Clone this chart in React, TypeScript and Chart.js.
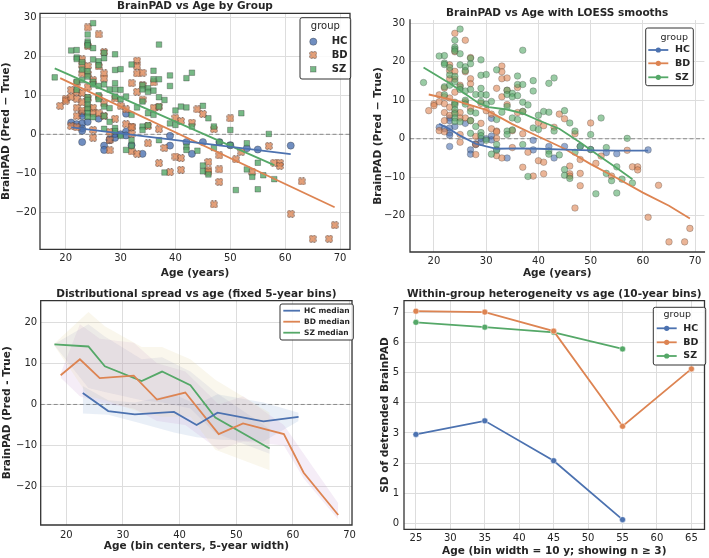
import React, { useEffect, useRef } from "react";
import { Chart, registerables } from "chart.js";
Chart.register(...registerables);

const FONT = "'DejaVu Sans', 'Liberation Sans', sans-serif";
const TEXT = "#262626";
const GRID = "#dddddd";
const SPINE = "#333333";
const C_HC = "#4C72B0";
const C_BD = "#DD8452";
const C_SZ = "#55A868";

// ---------- Scatter data: [age, BrainPAD] ----------
const hcPoints = [
  [21, 3.0], [22, 2.6], [23, 5.4], [23, 4.7], [23, 2.8], [23, 1.5], [23, 0.9], [23, -2.0], [24, 3.2], [26, 4.0],
  [27, -2.9], [27, -4.0], [28, -1.5], [28, -1.3], [29, -0.9], [29, 0.1], [30, 0.0], [31, 5.3], [31, 0.7], [31, -0.3],
  [32, -2.8], [34, -5.0], [39, -0.4], [39, -2.9], [42, -2.0], [43, -5.0], [45, -2.0], [48, -2.0], [50, -2.8], [53, -3.6],
  [55, -3.9], [61, -2.9],
];
const bdPoints = [
  [19, 7.3], [20, 9.1], [20, 8.6], [21, 11.4], [21, 9.6], [21, 2.1], [22, 13.2], [22, 10.9], [22, 9.1], [22, 6.8],
  [22, 4.7], [22, 1.8], [23, 19.2], [23, 17.7], [23, 15.6], [23, 10.6], [23, 8.2], [23, 6.1], [24, 27.4], [24, 22.6],
  [24, 17.5], [24, 15.5], [24, 12.1], [24, 9.2], [24, 6.9], [25, 13.9], [25, 6.8], [25, 5.4], [25, 1.1], [25, -0.9],
  [26, 25.6], [26, 17.4], [26, 9.6], [26, 5.4], [27, 21.1], [27, 15.6], [27, 14.3], [27, 7.9], [27, 4.7], [28, -4.1],
  [28, -1.5], [28, 0.6], [29, 9.2], [29, 4.0], [30, 7.3], [31, 6.4], [31, 2.6], [32, 13.1], [32, 2.0], [32, 1.8],
  [32, 0.1], [32, -4.4], [33, 18.9], [33, 17.4], [33, 15.6], [33, 10.9], [33, -5.0], [34, 15.8], [34, 12.6], [34, 8.9],
  [35, 2.1], [35, -2.3], [36, 13.3], [36, 6.8], [37, 7.1], [37, 1.3], [37, -7.4], [38, -3.5], [39, -9.7], [40, 4.2],
  [40, -5.7], [41, 3.4], [41, -6.1], [41, -9.1], [43, 3.0], [44, 6.4], [45, 5.2], [46, -7.1], [46, -9.1], [46, -9.7],
  [47, 1.3], [47, -18.0], [48, -5.4], [48, -9.0], [48, -12.2], [50, 4.1], [51, -6.4], [52, -4.5], [54, -9.7], [57, -3.0],
  [58, -7.3], [59, -7.3], [59, -8.1], [61, -20.4], [63, -12.1], [65, -26.8], [68, -26.8], [69, -23.3],
];
const szPoints = [
  [18, 14.6], [21, 21.5], [22, 21.6], [22, 19.7], [22, 19.3], [22, 13.5], [22, 11.4], [23, 18.5], [23, 16.6], [23, 13.9],
  [24, 25.6], [24, 23.8], [24, 23.3], [24, 22.8], [24, 16.2], [24, 14.8], [24, 9.5], [24, 8.8], [24, 7.6], [24, 6.5],
  [24, 5.4], [24, 4.5], [25, 28.5], [25, 22.1], [25, 19.2], [25, 13.5], [25, 12.8], [25, 4.4], [26, 18.7], [26, 17.7],
  [26, 12.4], [26, 10.0], [26, 9.0], [27, 20.9], [27, 19.5], [27, 12.8], [27, 7.1], [27, 4.7], [27, 1.4], [28, 11.5],
  [28, 6.7], [28, 3.2], [29, 20.5], [29, 16.5], [29, 13.1], [29, 11.5], [29, 9.7], [29, 1.6], [29, 0.8], [30, 16.7],
  [30, 11.4], [30, 9.0], [30, -0.4], [31, 9.7], [31, -4.0], [32, 17.9], [32, 5.0], [32, -1.5], [32, -3.0], [33, 6.9],
  [34, 12.6], [34, 11.5], [34, 8.4], [34, 2.0], [34, 1.1], [35, 11.8], [35, 10.9], [35, 5.4], [35, 2.3], [36, 16.3],
  [36, 14.1], [36, 11.2], [36, 5.0], [37, 23.0], [37, 14.1], [37, 9.5], [37, 7.1], [37, -1.5], [38, 8.8], [38, -9.8],
  [39, 15.1], [39, 12.4], [39, 2.8], [40, 6.1], [40, 2.4], [41, 7.1], [42, 14.4], [42, 6.9], [42, -3.2], [42, -4.0],
  [43, 15.8], [43, 2.0], [44, -4.2], [45, 7.3], [45, -8.0], [45, -9.5], [46, 4.1], [46, -10.3], [47, 2.0], [47, -3.5],
  [48, -2.0], [50, 1.1], [50, -2.8], [51, -14.3], [52, 5.4], [53, -2.3], [53, -9.0], [54, -10.9], [55, -7.3], [55, -14.1],
  [56, -10.5], [57, 0.1], [58, -11.5],
];

// ---------- Panel 1: linear fits (endpoints) ----------
const fitHCx = [21, 61];
const fitHCy = [1.8, -5.1];
const fitBDx = [19, 69];
const fitBDy = [14.4, -18.7];
const fitSZx = [18, 58];
const fitSZy = [16.9, -7.9];

// ---------- Panel 2: LOESS smooths ----------
const loessHCx = [21, 23, 25, 28, 30, 32, 36, 40, 45, 50, 55, 61];
const loessHCy = [3.9, 2.5, 0.8, -1.3, -2.0, -2.6, -2.5, -2.6, -2.8, -3.0, -3.1, -3.1];
const loessBDx = [19, 24, 30, 35, 40, 45, 50, 55, 60, 65, 69];
const loessBDy = [11.5, 10.0, 7.5, 3.8, 0.6, -2.6, -6.6, -10.2, -14.0, -17.4, -20.7];
const loessSZx = [18, 23, 26, 28.5, 30.5, 34, 37, 40, 44, 48, 52, 55, 58];
const loessSZy = [18.5, 14.4, 11.6, 9.3, 8.2, 7.6, 6.6, 4.8, 2.6, -1.0, -4.8, -7.6, -10.5];

// ---------- Panel 3: binned medians and spread ----------
const binHCx = [22.9, 27.4, 32.1, 39.0, 43.0, 46.7, 54.8, 61.0];
const medHC = [2.8, -1.6, -2.4, -1.8, -5.0, -2.0, -4.1, -3.0];
const loHC = [-2.2, -2.5, -4.2, -6.8, -8.0, -8.5, -9.0, -4.0];
const hiHC = [4.5, 1.0, 0.5, 2.5, 0.0, 2.5, 0.5, -2.0];
const binBDx = [19.0, 22.4, 25.9, 31.9, 36.0, 41.0, 46.9, 51.2, 58.4, 61.9, 68.0];
const medBD = [7.1, 11.0, 6.4, 7.0, 1.2, 2.9, -7.2, -4.6, -7.2, -16.6, -26.9];
const loBD = [6.5, 2.0, 0.5, -1.0, -4.0, -5.0, -11.0, -9.0, -10.0, -18.0, -28.0];
const hiBD = [7.5, 19.5, 16.0, 15.0, 10.0, 8.0, 0.0, 2.0, -5.0, -12.0, -24.0];
const binSZx = [17.9, 23.9, 26.8, 33.3, 36.9, 41.9, 46.3, 55.9];
const medSZ = [14.6, 14.1, 9.3, 5.7, 8.0, 4.7, -3.2, -10.7];
const loSZ = [14.3, 2.0, 1.0, -2.0, -3.0, -3.0, -11.0, -16.0];
const hiSZ = [14.8, 22.5, 19.0, 14.0, 14.0, 11.0, 6.0, -2.0];
const loSZin = [14.4, 4.0, 3.0, 1.0, 0.5, -1.0, -7.0, -12.0];
const hiSZin = [14.7, 19.5, 16.5, 11.0, 11.5, 8.0, 3.0, -6.0];

// ---------- Panel 4: SD of detrended BrainPAD ----------
const sdHCx = [25, 35, 45, 55];
const sdHC = [2.95, 3.4, 2.08, 0.13];
const sdBDx = [25, 35, 45, 55, 65];
const sdBD = [7.03, 7.0, 6.37, 3.22, 5.12];
const sdSZx = [25, 35, 45, 55];
const sdSZ = [6.66, 6.5, 6.33, 5.78];

// ---------- Tick labels ----------
const padTicks = [-20, -10, 0, 10, 20, 30];
const padTicks3 = [-20, -10, 0, 10, 20];
const ageTicks = [20, 30, 40, 50, 60, 70];
const ageTicks4 = [25, 30, 35, 40, 45, 50, 55, 60, 65];
const sdTicks = [0, 1, 2, 3, 4, 5, 6, 7];

// ---------- helpers ----------
function rgba(hex: string, a: number) {
  const n = parseInt(hex.slice(1), 16);
  return `rgba(${(n >> 16) & 255},${(n >> 8) & 255},${n & 255},${a})`;
}
const pairs = (p: number[][]) => p.map(([x, y]) => ({ x, y }));
const zip = (xs: number[], ys: number[]) => xs.map((x, i) => ({ x, y: ys[i] }));
const fmt = (v: number) => String(v).replace("-", "\u2212");

function makeXMarker(size: number, fill: string, stroke: string) {
  const c = document.createElement("canvas");
  c.width = size;
  c.height = size;
  const g = c.getContext("2d")!;
  const h = size / 2;
  const a = h * 0.98;
  const w = h * 0.42;
  g.translate(h, h);
  g.rotate(Math.PI / 4);
  const pts = [[-w, -a], [w, -a], [w, -w], [a, -w], [a, w], [w, w], [w, a], [-w, a], [-w, w], [-a, w], [-a, -w], [-w, -w]];
  g.beginPath();
  pts.forEach(([x, y], i) => (i ? g.lineTo(x, y) : g.moveTo(x, y)));
  g.closePath();
  g.fillStyle = fill;
  g.fill();
  g.strokeStyle = stroke;
  g.lineWidth = 0.7;
  g.stroke();
  return c;
}

function scale(axis: "x" | "y", min: number, max: number, ticks: number[], size: number, pad: number, title: string, tpb = 0) {
  return {
    type: "linear",
    min,
    max,
    afterBuildTicks: (ax: any) => {
      ax.ticks = ticks.map((v) => ({ value: v }));
    },
    afterFit: (ax: any) => {
      if (axis === "x") ax.height = size;
      else ax.width = size;
    },
    grid: { color: GRID, lineWidth: 1, drawTicks: false },
    border: { display: false },
    ticks: {
      padding: pad,
      color: TEXT,
      autoSkip: false,
      maxRotation: 0,
      font: { family: FONT, size: 10 },
      callback: (v: number) => fmt(v),
    },
    title: {
      display: true,
      text: title,
      color: TEXT,
      font: { family: FONT, size: 10.5, weight: "bold" },
      padding: { top: 0, bottom: tpb },
    },
  };
}

type LegendItem = { label: string; y: number; color: string; kind: string; xm?: HTMLCanvasElement };
type LegendSpec = {
  box: [number, number, number, number];
  title?: { text: string; x: number; y: number };
  size: number;
  markerX: number;
  lineX?: [number, number];
  textX: number;
  items: LegendItem[];
};

function drawLegend(ctx: CanvasRenderingContext2D, L: LegendSpec) {
  const [x0, y0, x1, y1] = L.box;
  ctx.save();
  ctx.beginPath();
  (ctx as any).roundRect(x0, y0, x1 - x0, y1 - y0, 2);
  ctx.fillStyle = "rgba(255,255,255,0.85)";
  ctx.fill();
  ctx.strokeStyle = SPINE;
  ctx.lineWidth = 1;
  ctx.stroke();
  ctx.textBaseline = "middle";
  if (L.title) {
    ctx.fillStyle = TEXT;
    ctx.textAlign = "center";
    ctx.font = `${L.size}px ${FONT}`;
    ctx.fillText(L.title.text, L.title.x, L.title.y);
  }
  for (const it of L.items) {
    if (it.kind === "line" || it.kind === "lineDot") {
      ctx.strokeStyle = it.color;
      ctx.lineWidth = 1.8;
      ctx.beginPath();
      ctx.moveTo(L.lineX![0], it.y);
      ctx.lineTo(L.lineX![1], it.y);
      ctx.stroke();
      if (it.kind === "lineDot") {
        ctx.fillStyle = it.color;
        ctx.beginPath();
        ctx.arc(L.markerX, it.y, 2.6, 0, Math.PI * 2);
        ctx.fill();
      }
    } else if (it.kind === "circle") {
      ctx.fillStyle = rgba(it.color, 0.8);
      ctx.strokeStyle = "rgba(40,40,40,0.55)";
      ctx.lineWidth = 0.6;
      ctx.beginPath();
      ctx.arc(L.markerX, it.y, 3.6, 0, Math.PI * 2);
      ctx.fill();
      ctx.stroke();
    } else if (it.kind === "rect") {
      ctx.fillStyle = rgba(it.color, 0.8);
      ctx.strokeStyle = "rgba(40,40,40,0.55)";
      ctx.lineWidth = 0.6;
      ctx.fillRect(L.markerX - 2.7, it.y - 2.7, 5.4, 5.4);
      ctx.strokeRect(L.markerX - 2.7, it.y - 2.7, 5.4, 5.4);
    } else if (it.kind === "x" && it.xm) {
      ctx.drawImage(it.xm, L.markerX - it.xm.width / 2, it.y - it.xm.height / 2);
    }
    ctx.fillStyle = TEXT;
    ctx.textAlign = "left";
    ctx.font = `bold ${L.size}px ${FONT}`;
    ctx.fillText(it.label, L.textX, it.y);
  }
  ctx.restore();
}

function deco(frame: string[], zero: boolean, legend?: LegendSpec) {
  return {
    id: "deco",
    beforeDatasetsDraw(chart: any) {
      if (!zero) return;
      const { ctx, chartArea: a, scales } = chart;
      const y = scales.y.getPixelForValue(0);
      ctx.save();
      ctx.strokeStyle = "#8a8a8a";
      ctx.lineWidth = 1;
      ctx.setLineDash([4, 2.5]);
      ctx.beginPath();
      ctx.moveTo(a.left, y);
      ctx.lineTo(a.right, y);
      ctx.stroke();
      ctx.restore();
    },
    afterDraw(chart: any) {
      const { ctx, chartArea: a } = chart;
      ctx.save();
      ctx.strokeStyle = SPINE;
      ctx.lineWidth = 1.3;
      ctx.lineCap = "square";
      ctx.beginPath();
      if (frame.includes("left")) { ctx.moveTo(a.left, a.top); ctx.lineTo(a.left, a.bottom); }
      if (frame.includes("bottom")) { ctx.moveTo(a.left, a.bottom); ctx.lineTo(a.right, a.bottom); }
      if (frame.includes("top")) { ctx.moveTo(a.left, a.top); ctx.lineTo(a.right, a.top); }
      if (frame.includes("right")) { ctx.moveTo(a.right, a.top); ctx.lineTo(a.right, a.bottom); }
      ctx.stroke();
      ctx.restore();
      if (legend) drawLegend(ctx, legend);
    },
  };
}

function titleOpt(text: string, pb: number) {
  return {
    display: true,
    text,
    fullSize: false,
    color: TEXT,
    font: { family: FONT, size: 10.5, weight: "bold" },
    padding: { top: 0, bottom: pb },
  };
}

const lineDs = (data: any[], color: string, width = 1.8, order = 0) => ({
  type: "line",
  data,
  borderColor: color,
  backgroundColor: color,
  borderWidth: width,
  pointRadius: 0,
  fill: false,
  tension: 0,
  order,
});

function cfgP1() {
  const xm = makeXMarker(8, "rgba(221,132,82,0.78)", "rgba(70,60,60,0.8)");
  return {
    type: "scatter",
    data: {
      datasets: [
        lineDs(zip(fitHCx, fitHCy), C_HC),
        lineDs(zip(fitBDx, fitBDy), C_BD),
        lineDs(zip(fitSZx, fitSZy), C_SZ),
        { data: pairs(hcPoints), pointStyle: "circle", pointRadius: 3.6, backgroundColor: rgba(C_HC, 0.8), borderColor: "rgba(40,40,40,0.55)", borderWidth: 0.6, order: 3 },
        { data: pairs(bdPoints), pointStyle: xm, pointRadius: 4, order: 2 },
        { data: pairs(szPoints), pointStyle: "rect", pointRadius: 3.9, backgroundColor: rgba(C_SZ, 0.8), borderColor: "rgba(40,40,40,0.55)", borderWidth: 0.6, order: 1 },
      ],
    },
    options: {
      responsive: false,
      animation: false,
      events: [],
      layout: { padding: { left: 0, top: 0, right: 1, bottom: 0 } },
      plugins: { legend: { display: false }, tooltip: { enabled: false }, title: titleOpt("BrainPAD vs Age by Group", 0.7) },
      scales: {
        x: scale("x", 15.32, 71.8, ageTicks, 30.7, 3, "Age (years)"),
        y: scale("y", -29.49, 31.03, padTicks, 40, 3.5, "BrainPAD (Pred \u2212 True)"),
      },
    },
    plugins: [
      deco(["left", "bottom", "top", "right"], true, {
        box: [300, 17.7, 350.7, 79],
        title: { text: "group", x: 325.3, y: 26.7 },
        size: 10,
        markerX: 313.3,
        textX: 331.7,
        items: [
          { label: "HC", y: 41.7, color: C_HC, kind: "circle" },
          { label: "BD", y: 55, color: C_BD, kind: "x", xm },
          { label: "SZ", y: 69.3, color: C_SZ, kind: "rect" },
        ],
      }),
    ],
  };
}

function cfgP2() {
  const pt = (p: number[][], c: string, order: number) => ({
    data: pairs(p),
    pointStyle: "circle",
    pointRadius: 3.3,
    backgroundColor: rgba(c, 0.6),
    borderColor: "rgba(50,50,50,0.45)",
    borderWidth: 0.6,
    order,
  });
  return {
    type: "scatter",
    data: {
      datasets: [
        lineDs(zip(loessHCx, loessHCy), C_HC),
        lineDs(zip(loessBDx, loessBDy), C_BD),
        lineDs(zip(loessSZx, loessSZy), C_SZ),
        pt(hcPoints, C_HC, 3),
        pt(bdPoints, C_BD, 2),
        pt(szPoints, C_SZ, 1),
      ],
    },
    options: {
      responsive: false,
      animation: false,
      events: [],
      layout: { padding: { left: 17, top: 6.5, right: 4, bottom: 0 } },
      plugins: { legend: { display: false }, tooltip: { enabled: false }, title: titleOpt("BrainPAD vs Age with LOESS smooths", 0.9) },
      scales: {
        x: scale("x", 15.41, 71.78, ageTicks, 28, 3.7, "Age (years)"),
        y: scale("y", -29.43, 30.86, padTicks, 38, 5, "BrainPAD (Pred \u2212 True)"),
      },
    },
    plugins: [
      deco(["left", "bottom"], true, {
        box: [290.7, 28, 338.3, 85.7],
        title: { text: "group", x: 319.3, y: 37.3 },
        size: 9.5,
        markerX: 303.3,
        lineX: [293.3, 313.3],
        textX: 320,
        items: [
          { label: "HC", y: 50, color: C_HC, kind: "lineDot" },
          { label: "BD", y: 63.3, color: C_BD, kind: "lineDot" },
          { label: "SZ", y: 77.3, color: C_SZ, kind: "lineDot" },
        ],
      }),
    ],
  };
}

function cfgP3() {
  const band = (xs: number[], hi: number[], lo: number[], color: string) => [
    { type: "line", data: zip(xs, hi), borderWidth: 0, pointRadius: 0, fill: "+1", backgroundColor: color, borderColor: "rgba(0,0,0,0)", tension: 0, order: 1 },
    { type: "line", data: zip(xs, lo), borderWidth: 0, pointRadius: 0, fill: false, borderColor: "rgba(0,0,0,0)", tension: 0, order: 1 },
  ];
  return {
    type: "line",
    data: {
      datasets: [
        lineDs(zip(binHCx, medHC), C_HC, 1.8, 0),
        lineDs(zip(binBDx, medBD), C_BD, 1.8, 0),
        lineDs(zip(binSZx, medSZ), C_SZ, 1.8, 0),
        ...band(binSZx, hiSZ, loSZ, "rgba(230,215,165,0.2)"),
        ...band(binSZx, hiSZin, loSZin, "rgba(130,135,195,0.14)"),
        ...band(binBDx, hiBD, loBD, "rgba(195,150,205,0.17)"),
        ...band(binHCx, hiHC, loHC, "rgba(110,145,200,0.15)"),
      ],
    },
    options: {
      responsive: false,
      animation: false,
      events: [],
      layout: { padding: { left: 0.5, top: 8, right: 3.3, bottom: 0 } },
      plugins: { legend: { display: false }, tooltip: { enabled: false }, title: titleOpt("Distributional spread vs age (fixed 5-year bins)", 0) },
      scales: {
        x: scale("x", 15.48, 70.43, ageTicks, 33, 4, "Age (bin centers, 5-year width)", 5),
        y: scale("y", -29.32, 25.26, padTicks3, 40.2, 3.5, "BrainPAD (Pred - True)"),
      },
    },
    plugins: [
      deco(["left", "bottom", "top", "right"], true, {
        box: [280, 24, 353.3, 60],
        size: 7.5,
        markerX: 291,
        lineX: [283.3, 300],
        textX: 304,
        items: [
          { label: "HC median", y: 30.7, color: C_HC, kind: "line" },
          { label: "BD median", y: 41.7, color: C_BD, kind: "line" },
          { label: "SZ median", y: 52.7, color: C_SZ, kind: "line" },
        ],
      }),
    ],
  };
}

function cfgP4() {
  const ds = (xs: number[], ys: number[], c: string) => ({
    type: "line",
    data: zip(xs, ys),
    borderColor: c,
    backgroundColor: c,
    borderWidth: 1.8,
    pointRadius: 3,
    pointBackgroundColor: c,
    pointBorderColor: "#ffffff",
    pointBorderWidth: 0.5,
    fill: false,
    tension: 0,
  });
  return {
    type: "line",
    data: { datasets: [ds(sdHCx, sdHC, C_HC), ds(sdBDx, sdBD, C_BD), ds(sdSZx, sdSZ, C_SZ)] },
    options: {
      responsive: false,
      animation: false,
      events: [],
      layout: { padding: { left: 24, top: 8, right: 1.7, bottom: 0 } },
      plugins: { legend: { display: false }, tooltip: { enabled: false }, title: titleOpt("Within-group heterogeneity vs age (10-year bins)", 0) },
      scales: {
        x: scale("x", 23.27, 66.9, ageTicks4, 28.7, 3, "Age (bin width = 10 y; showing n \u2265 3)"),
        y: scale("y", -0.19, 7.38, sdTicks, 25, 5, "SD of detrended BrainPAD"),
      },
    },
    plugins: [
      deco(["left", "bottom", "top", "right"], false, {
        box: [298.3, 27.3, 350.7, 85],
        title: { text: "group", x: 322.3, y: 34.3 },
        size: 9.5,
        markerX: 311.7,
        lineX: [301.7, 321.7],
        textX: 328.3,
        items: [
          { label: "HC", y: 48.3, color: C_HC, kind: "lineDot" },
          { label: "BD", y: 62.3, color: C_BD, kind: "lineDot" },
          { label: "SZ", y: 76, color: C_SZ, kind: "lineDot" },
        ],
      }),
    ],
  };
}

function Panel({ left, top, width, height, make }: { left: number; top: number; width: number; height: number; make: () => any }) {
  const ref = useRef<HTMLCanvasElement>(null);
  useEffect(() => {
    const chart = new Chart(ref.current as HTMLCanvasElement, make());
    return () => chart.destroy();
  }, []);
  return <canvas ref={ref} width={width} height={height} style={{ position: "absolute", left, top, width, height }} />;
}

export default function App() {
  return (
    <div style={{ position: "fixed", left: 0, top: 0, width: 709, height: 558, background: "#ffffff", overflow: "hidden" }}>
      <Panel left={355} top={280} width={354} height={278} make={cfgP4} />
      <Panel left={0} top={280} width={360} height={278} make={cfgP3} />
      <Panel left={0} top={0} width={355} height={280} make={cfgP1} />
      <Panel left={355} top={0} width={354} height={280} make={cfgP2} />
    </div>
  );
}
